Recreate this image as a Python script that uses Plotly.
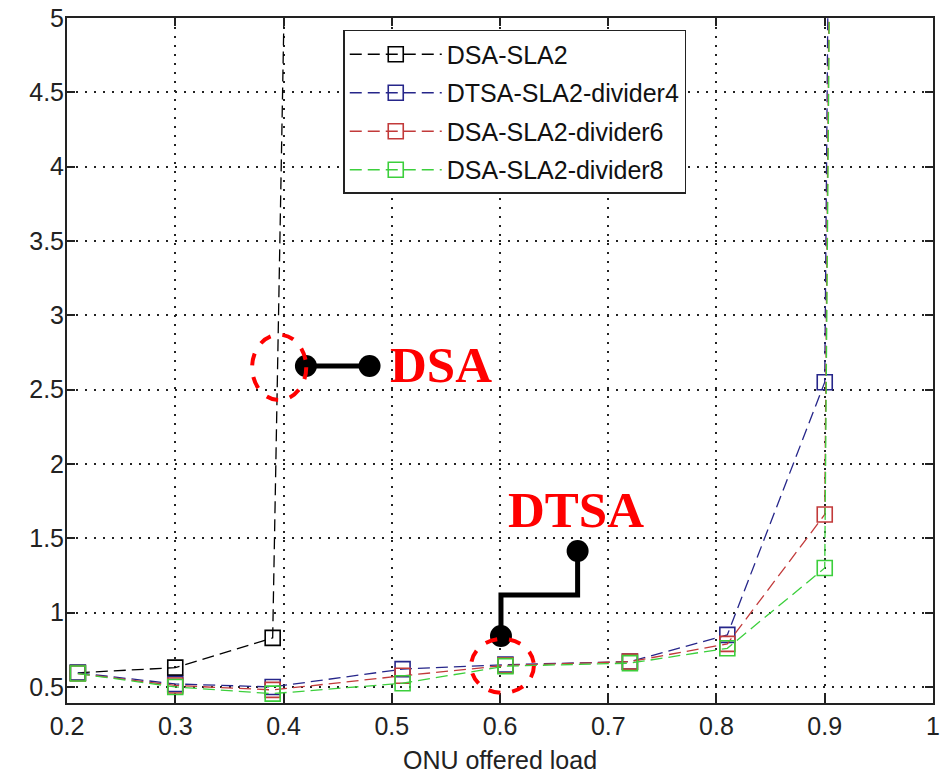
import plotly.graph_objects as go

# ---- data ----
load_dsa = [0.21, 0.30, 0.39, 0.50]
delay_dsa = [0.595, 0.63, 0.83, 45.0]

load_div = [0.21, 0.30, 0.39, 0.51, 0.605, 0.72, 0.81, 0.90, 1.00]
delay_div4 = [0.595, 0.52, 0.50, 0.62, 0.65, 0.67, 0.85, 2.55, 90.0]
delay_div6 = [0.59, 0.51, 0.48, 0.575, 0.645, 0.67, 0.79, 1.66, 90.0]
delay_div8 = [0.59, 0.50, 0.455, 0.525, 0.64, 0.66, 0.76, 1.30, 90.0]

names = ["DSA-SLA2", "DTSA-SLA2-divider4", "DSA-SLA2-divider6", "DSA-SLA2-divider8"]
colors = ["#000000", "#26268a", "#c23a3a", "#3ccf3c"]

x_ticks = [0.2, 0.3, 0.4, 0.5, 0.6, 0.7, 0.8, 0.9, 1.0]
x_tick_text = ["0.2", "0.3", "0.4", "0.5", "0.6", "0.7", "0.8", "0.9", "1"]
y_ticks = [0.5, 1, 1.5, 2, 2.5, 3, 3.5, 4, 4.5, 5]
y_tick_text = ["0.5", "1", "1.5", "2", "2.5", "3", "3.5", "4", "4.5", "5"]

series = [
    (load_dsa, delay_dsa),
    (load_div, delay_div4),
    (load_div, delay_div6),
    (load_div, delay_div8),
]

fig = go.Figure()
for i, ((xs, ys), nm, col) in enumerate(zip(series, names, colors)):
    fig.add_trace(go.Scatter(
        x=xs, y=ys, name=nm, mode="lines+markers",
        line=dict(color=col, width=1.3, dash="12px,6px"),
        marker=dict(symbol="square-open", size=15, color=col, line=dict(width=1.6)),
        legendgroup=f"g{i}",
    ))

# annotation connectors (callouts)
fig.add_trace(go.Scatter(
    x=[0.4207, 0.4795], y=[2.659, 2.659], mode="lines+markers",
    line=dict(color="black", width=5), marker=dict(size=22, color="black"),
    showlegend=False, hoverinfo="skip", cliponaxis=False,
))
fig.add_trace(go.Scatter(
    x=[0.6009, 0.6009, 0.6717, 0.6717], y=[0.843, 1.119, 1.119, 1.415],
    mode="lines", line=dict(color="black", width=5),
    showlegend=False, hoverinfo="skip",
))
fig.add_trace(go.Scatter(
    x=[0.6009, 0.6717], y=[0.843, 1.415], mode="markers",
    marker=dict(size=22, color="black"),
    showlegend=False, hoverinfo="skip",
))

fig.add_shape(type="circle", xref="x", yref="y", x0=0.371, x1=0.421, y0=2.43, y1=2.87,
              line=dict(color="red", width=4, dash="dash"))
fig.add_shape(type="circle", xref="x", yref="y", x0=0.5733, x1=0.6313, y0=0.46, y1=0.823,
              line=dict(color="red", width=4, dash="dash"))

fig.add_annotation(x=0.5453, y=2.665, xref="x", yref="y", text="<b>DSA</b>", showarrow=False,
                   font=dict(family="Liberation Serif", size=51, color="#ff0000"))
fig.add_annotation(x=0.6703, y=1.69, xref="x", yref="y", text="<b>DTSA</b>", showarrow=False,
                   font=dict(family="Liberation Serif", size=51, color="#ff0000"))

axis_common = dict(
    showline=True, linecolor="#222", linewidth=2, mirror="ticks",
    ticks="inside", ticklen=8, tickcolor="#222", tickwidth=1.5,
    showgrid=True, gridcolor="#222", griddash="2px,7px", gridwidth=1.5,
    zeroline=False, ticklabeloverflow="allow", automargin=False,
    tickfont=dict(family="Liberation Sans", size=25, color="#222"),
)

fig.update_xaxes(range=[0.19999, 1.00001], tickvals=x_ticks, ticktext=x_tick_text,
                 title=dict(text="ONU offered load", standoff=12,
                            font=dict(family="Liberation Sans", size=25, color="#222")),
                 **axis_common)
fig.update_yaxes(range=[0.392, 5.0001], tickvals=y_ticks, ticktext=y_tick_text,
                 ticklabelstandoff=-4, **axis_common)

fig.update_layout(
    width=941, height=774,
    margin=dict(l=67, r=8, t=18, b=71),
    plot_bgcolor="white", paper_bgcolor="white",
    showlegend=True,
    legend=dict(
        x=0.319, y=0.9825, xanchor="left", yanchor="top",
        bgcolor="white", bordercolor="#222", borderwidth=1.5,
        font=dict(family="Liberation Sans", size=25, color="#111"),
        tracegroupgap=3, itemwidth=92,
    ),
)

fig.write_html("out.html")
